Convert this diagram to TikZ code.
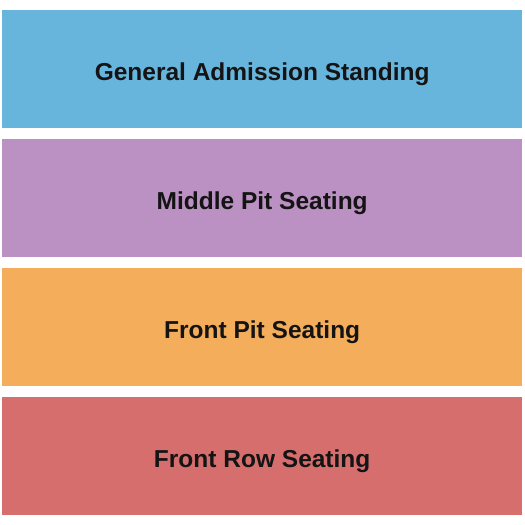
\documentclass[tikz,border=0pt]{standalone}
\usepackage{fontspec}
\setmainfont{Liberation Sans}
\definecolor{gablue}{HTML}{67B5DD}
\definecolor{mppurple}{HTML}{BB90C3}
\definecolor{fporange}{HTML}{F4AE5B}
\definecolor{frred}{HTML}{D76E6E}
\begin{document}
\begin{tikzpicture}[x=1pt,y=1pt,
  band/.style={draw=none,minimum width=520pt,minimum height=118.3pt,inner sep=0pt,anchor=north west,
     text height=22.2pt,text depth=0pt,
     font=\fontsize{24.5}{28}\selectfont\bfseries,text=black!92}]
\useasboundingbox (0,0) rectangle (525,525);
\node[band,fill=gablue]   (ga) at (2,515)   {General Admission Standing};
\node[band,fill=mppurple] (mp) at (2,386.3) {Middle Pit Seating};
\node[band,fill=fporange] (fp) at (2,257)   {Front Pit Seating};
\node[band,fill=frred]    (fr) at (2,128.3) {Front Row Seating};
\end{tikzpicture}
\end{document}
